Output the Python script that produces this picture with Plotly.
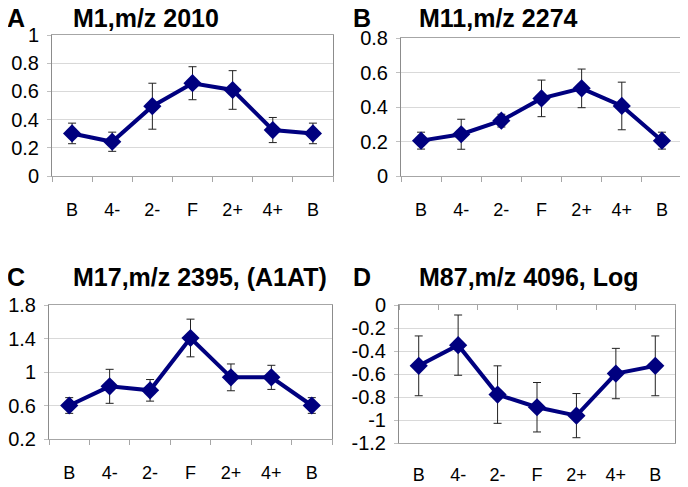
import plotly.graph_objects as go

categories = ["B", "4-", "2-", "F", "2+", "4+", "B"]

a_vals = [0.302, 0.243, 0.495, 0.658, 0.610, 0.326, 0.302]
a_err = [0.073, 0.068, 0.163, 0.117, 0.137, 0.089, 0.073]

b_vals = [0.205, 0.242, 0.321, 0.450, 0.508, 0.406, 0.205]
b_err = [0.049, 0.087, 0.037, 0.106, 0.112, 0.138, 0.049]

c_vals = [0.600, 0.829, 0.781, 1.406, 0.936, 0.936, 0.600]
c_err = [0.094, 0.203, 0.129, 0.225, 0.160, 0.144, 0.094]

d_vals = [-0.529, -0.349, -0.779, -0.889, -0.962, -0.596, -0.529]
d_err = [0.260, 0.262, 0.250, 0.215, 0.192, 0.219, 0.260]

panels = [
    ("A", "M1,m/z 2010", a_vals, a_err, [0, 1]),
    ("B", "M11,m/z 2274", b_vals, b_err, [0, 0.8]),
    ("C", "M17,m/z 2395, (A1AT)", c_vals, c_err, [0.2, 1.8]),
    ("D", "M87,m/z 4096, Log", d_vals, d_err, [-1.2, 0]),
]
ytickvals = {
    "A": [0, 0.2, 0.4, 0.6, 0.8, 1],
    "B": [0, 0.2, 0.4, 0.6, 0.8],
    "C": [0.2, 0.6, 1, 1.4, 1.8],
    "D": [-1.2, -1, -0.8, -0.6, -0.4, -0.2, 0],
}
yticktext = {
    "A": ["0", "0.2", "0.4", "0.6", "0.8", "1"],
    "B": ["0", "0.2", "0.4", "0.6", "0.8"],
    "C": ["0.2", "0.6", "1", "1.4", "1.8"],
    "D": ["-1.2", "-1", "-0.8", "-0.6", "-0.4", "-0.2", "0"],
}

W, H = 688, 487
OFF = 8  # the page body margin shifts the figure by this much
# plot-area boxes in screen pixels (left, right, top, bottom)
boxes = {
    "A": (52, 333, 35, 176),
    "B": (401, 682, 38, 176),
    "C": (49, 332, 305, 439),
    "D": (399, 675, 305, 443),
}
title_pos = {
    "A": (16, 18, 71),
    "B": (362, 18, 417),
    "C": (16, 277, 71),
    "D": (362, 277, 417),
}
label_standoff = {"A": 17, "B": 17, "C": 17, "D": 15}

FONT = "Arial, Liberation Sans, sans-serif"
NAVY = "#00007f"
xs = list(range(len(categories)))


def px(x):
    return (x - OFF) / W


def py(y):
    return 1 - (y - OFF) / H


fig = go.Figure()
layout = dict(
    width=W, height=H, margin=dict(l=0, r=0, t=0, b=0, autoexpand=False),
    paper_bgcolor="white", plot_bgcolor="white", showlegend=False,
    font=dict(family=FONT, size=18, color="black"),
)
annotations = []
for i, (lab, title, vals, err, yr) in enumerate(panels):
    n = i + 1
    xa = "xaxis" if n == 1 else f"xaxis{n}"
    ya = "yaxis" if n == 1 else f"yaxis{n}"
    xr = "x" if n == 1 else f"x{n}"
    yrf = "y" if n == 1 else f"y{n}"
    l, r, t, b = boxes[lab]
    fig.add_trace(go.Scatter(
        x=xs, y=vals, xaxis=xr, yaxis=yrf, mode="lines+markers",
        line=dict(color=NAVY, width=4),
        marker=dict(symbol="diamond", size=14, color=NAVY),
        error_y=dict(type="data", array=err, visible=True, color="#222222",
                     thickness=1, width=4),
    ))
    is_d = lab == "D"
    layout[xa] = dict(
        domain=[px(l), px(r)], anchor=yrf, range=[-0.5, 6.5],
        automargin=False,
        tickmode="array", tickvals=xs, ticktext=categories,
        ticks="", showgrid=False, zeroline=False,
        showline=True, linecolor="#a6a6a6", linewidth=1, mirror=True,
        ticklabelstandoff=label_standoff[lab],
        tickfont=dict(size=18, family=FONT),
        minor=dict(tickmode="linear", tick0=-0.5, dtick=1,
                   ticks="" if is_d else "outside", ticklen=5,
                   tickcolor="#a6a6a6", showgrid=False),
    )
    layout[ya] = dict(
        domain=[py(b), py(t)], anchor=xr, range=yr,
        automargin=False,
        tickmode="array", tickvals=ytickvals[lab], ticktext=yticktext[lab],
        ticks="outside", ticklen=4, tickcolor="#bfbfbf",
        showgrid=True, gridcolor="#d9d9d9", gridwidth=1, zeroline=False,
        showline=True, linecolor="#8c8c8c", linewidth=1, mirror=True,
        ticklabelstandoff=4,
        tickfont=dict(size=20, family=FONT),
    )
    lx, ly, tx = title_pos[lab]
    annotations.append(dict(text=f"<b>{lab}</b>", x=px(lx), y=py(ly),
                            xref="paper", yref="paper", showarrow=False,
                            xanchor="center", yanchor="middle",
                            font=dict(size=25, family=FONT, color="black")))
    annotations.append(dict(text=f"<b>{title}</b>", x=px(tx), y=py(ly),
                            xref="paper", yref="paper", showarrow=False,
                            xanchor="left", yanchor="middle",
                            font=dict(size=25, family=FONT, color="black")))

# top axis carrying the tick marks for panel D (x axis crosses at 0)
l, r, t, b = boxes["D"]
layout["xaxis5"] = dict(
    domain=[px(l), px(r)], anchor="y4", overlaying="x4", side="top",
    automargin=False,
    range=[-0.5, 6.5], showticklabels=False, ticks="", showgrid=False,
    zeroline=False, showline=False,
    minor=dict(tickmode="linear", tick0=-0.5, dtick=1, ticks="inside",
               ticklen=5, tickcolor="#a6a6a6", showgrid=False),
)
fig.add_trace(go.Scatter(x=[None], y=[None], xaxis="x5", yaxis="y4",
                         showlegend=False, hoverinfo="skip"))

layout["annotations"] = annotations
fig.update_layout(**layout)
fig.write_html("out.html")
